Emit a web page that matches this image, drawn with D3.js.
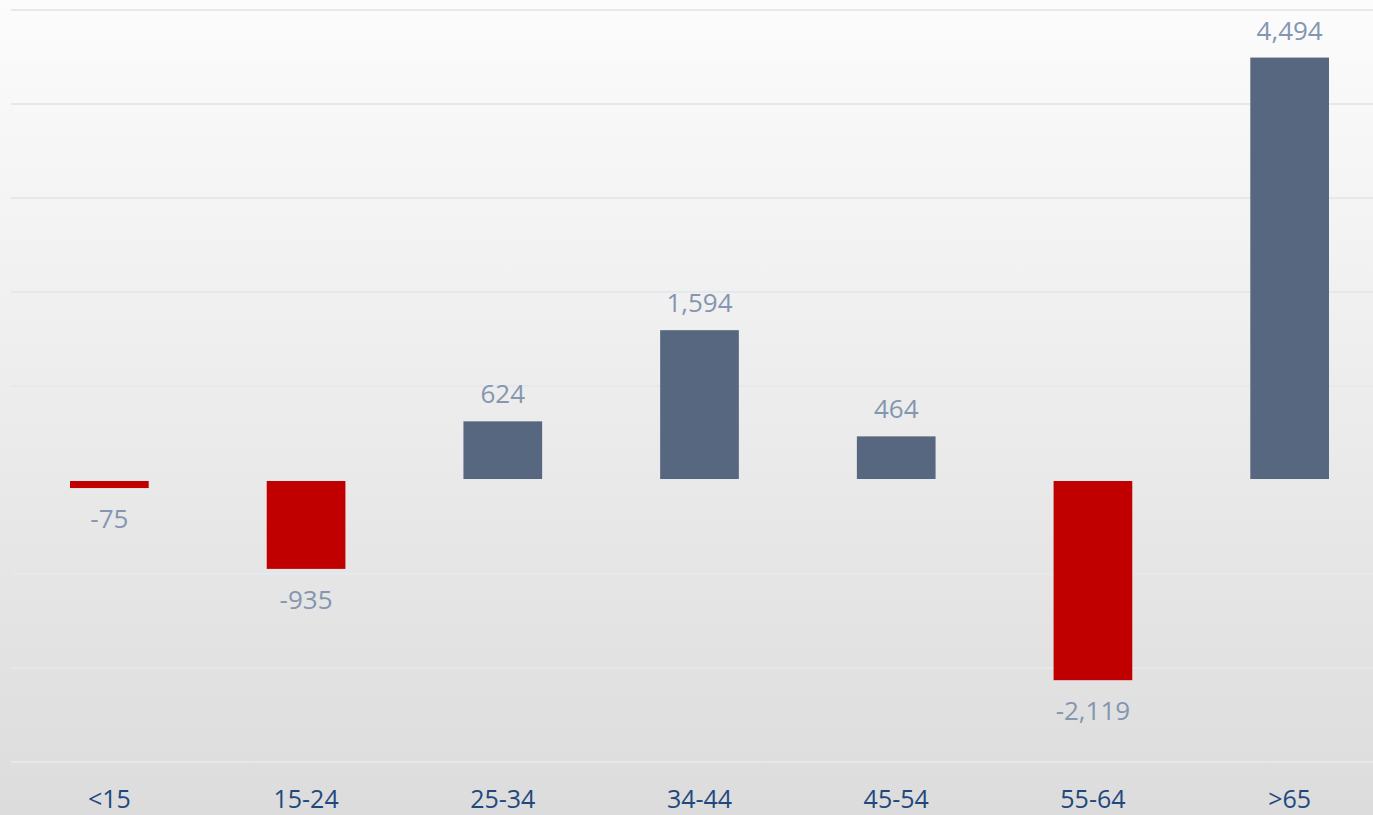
<!DOCTYPE html>
<html>
<head>
<meta charset="utf-8">
<script src="https://d3js.org/d3.v7.min.js"></script>
<style>
  html, body { margin: 0; padding: 0; overflow: hidden; }
  svg { display: block; }
</style>
</head>
<body>
<svg id="chart"></svg>
<script>
// values
var categories = ["<15", "15-24", "25-34", "34-44", "45-54", "55-64", ">65"];
var values = [-75, -935, 624, 1594, 464, -2119, 4494];
var gridTicks = [-3000, -2000, -1000, 0, 1000, 2000, 3000, 4000, 5000];

var width = 1373,
    height = 815;

var svg = d3.select("#chart")
    .attr("width", width)
    .attr("height", height);

var defs = svg.append("defs");
var grad = defs.append("linearGradient")
    .attr("id", "bg")
    .attr("x1", 0).attr("y1", 0)
    .attr("x2", 0).attr("y2", 1);
grad.append("stop").attr("offset", "0%").attr("stop-color", "#fcfcfc");
grad.append("stop").attr("offset", "100%").attr("stop-color", "#dcdcdc");

svg.append("rect")
    .attr("width", width)
    .attr("height", height)
    .attr("fill", "url(#bg)");

var x = d3.scaleBand()
    .domain(categories)
    .range([11, 1388])
    .paddingInner(0.6)
    .paddingOuter(0.3);

var y = d3.scaleLinear()
    .domain([-3000, 5000])
    .range([762, 10]);

// gridlines
svg.append("g").selectAll("line")
    .data(gridTicks)
  .enter().append("line")
    .attr("x1", 11)
    .attr("x2", width)
    .attr("y1", function(d) { return y(d); })
    .attr("y2", function(d) { return y(d); })
    .style("stroke", "#e5e8ed")
    .style("stroke-width", 2);

// bars
svg.append("g").selectAll("rect")
    .data(values)
  .enter().append("rect")
    .attr("x", function(d, i) { return x(categories[i]); })
    .attr("width", x.bandwidth())
    .attr("y", function(d) { return d >= 0 ? y(d) : y(0) + 1; })
    .attr("height", function(d) { return d >= 0 ? y(0) - y(d) - 1 : y(d) - y(0); })
    .style("fill", function(d) { return d >= 0 ? "#56677f" : "#c00000"; });

var fmt = d3.format(",");

// value labels
svg.append("g").selectAll("text")
    .data(values)
  .enter().append("text")
    .attr("x", function(d, i) { return x(categories[i]) + x.bandwidth() / 2; })
    .attr("y", function(d) { return d >= 0 ? y(d) - 18 : y(d) + 41; })
    .attr("text-anchor", "middle")
    .style("font-family", "'Open Sans', sans-serif")
    .style("font-size", "26px")
    .style("fill", "#8496b0")
    .text(function(d) { return fmt(d).replace("−", "-"); });

// category labels
svg.append("g").selectAll("text")
    .data(categories)
  .enter().append("text")
    .attr("x", function(d) { return x(d) + x.bandwidth() / 2; })
    .attr("y", 808)
    .attr("text-anchor", "middle")
    .style("font-family", "'Open Sans', sans-serif")
    .style("font-size", "25px")
    .style("fill", "#1f497d")
    .text(function(d) { return d; });
</script>
</body>
</html>
